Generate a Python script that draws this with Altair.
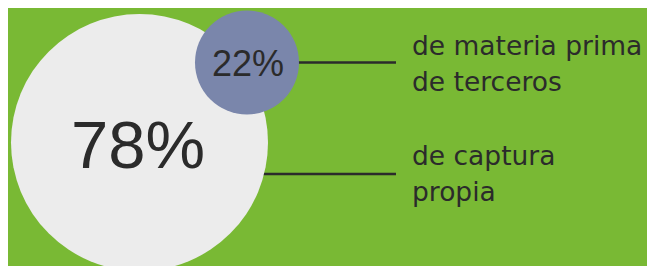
import altair as alt
import pandas as pd

# --- data ---
segments = ["propia", "terceros"]
shares = [78, 22]
share_labels = ["78%", "22%"]
descriptions = ["de captura\npropia", "de materia prima\nde terceros"]

# --- layout (pixel positions inside the view; page offset is 8px) ---
W, H = 639, 258
circle_x = [131.5, 239.0]
circle_y = [134.5, 54.5]
number_x = [130.0, 240.0]
number_y = [160.0, 68.0]
number_size = [67, 36]
rule_y = [166.0, 54.5]
rule_end_x = 388
label_x = 404
label_y = [156.5, 46.5]

GREEN = "#79b934"
INK = "#2b2b2b"
circle_colors = ["#ececec", "#7a86ab"]

df = pd.DataFrame({
    "segment": segments,
    "share": shares,
    "pct": share_labels,
    "desc": descriptions,
    "cx": circle_x,
    "cy": circle_y,
    "nx": number_x,
    "ny": number_y,
    "fs": number_size,
    "ry": rule_y,
    "ly": label_y,
})

base = alt.Chart(df)

rules = base.mark_rule(color=INK, strokeWidth=2.5).encode(
    x=alt.X("cx:Q", scale=None),
    x2=alt.value(rule_end_x),
    y=alt.Y("ry:Q", scale=None),
)

# Vega symbol size = (diameter)^2
circles = base.mark_circle(opacity=1, strokeWidth=0).encode(
    x=alt.X("cx:Q", scale=None),
    y=alt.Y("cy:Q", scale=None),
    size=alt.Size("share:Q", scale=alt.Scale(domain=[22, 78], range=[10816, 66049]), legend=None),
    color=alt.Color("segment:N", scale=alt.Scale(domain=segments, range=circle_colors), legend=None),
    order=alt.Order("share:Q", sort="descending"),
)

numbers = base.mark_text(
    align="center", baseline="alphabetic", font="Liberation Sans", color=INK
).encode(
    x=alt.X("nx:Q", scale=None),
    y=alt.Y("ny:Q", scale=None),
    size=alt.Size("fs:Q", scale=None),
    text="pct:N",
)

labels = base.mark_text(
    align="left", baseline="alphabetic", font="DejaVu Sans", fontSize=26.5,
    lineBreak="\n", lineHeight=36.4, color=INK
).encode(
    x=alt.value(label_x),
    y=alt.Y("ly:Q", scale=None),
    text="desc:N",
)

chart = alt.layer(rules, circles, numbers, labels).properties(
    width=W, height=H, padding=0, autosize=alt.AutoSizeParams(type="none"),
    background=GREEN,
).configure_view(stroke=None)

chart.save("out.html", embed_options={"renderer": "svg", "actions": False})
